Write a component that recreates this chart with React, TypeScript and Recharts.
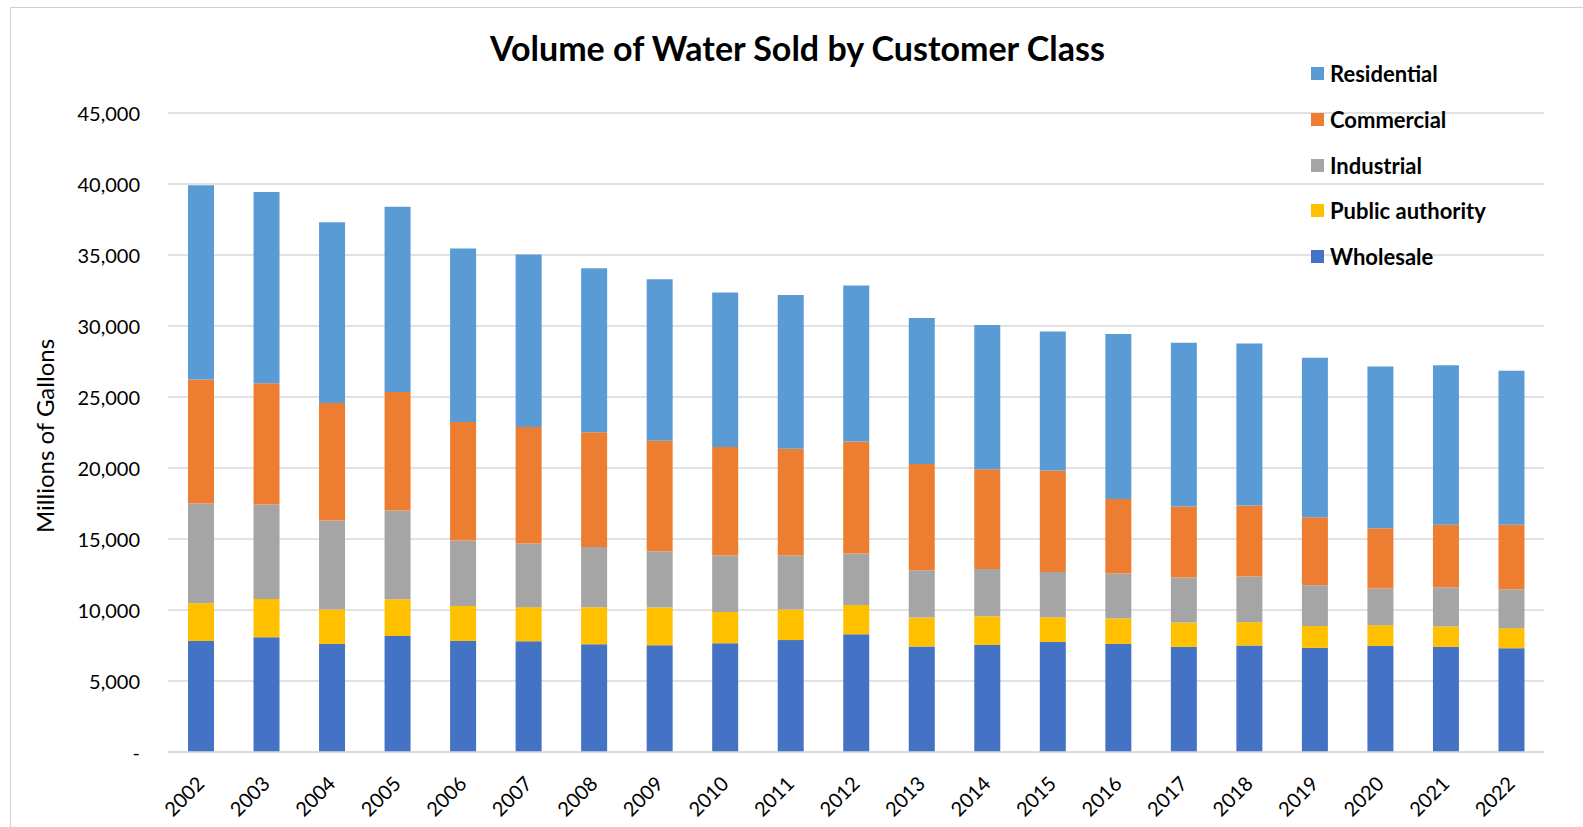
import React from 'react';
import { BarChart, Bar, XAxis, YAxis, CartesianGrid } from 'recharts';

const years = ['2002', '2003', '2004', '2005', '2006', '2007', '2008', '2009', '2010', '2011', '2012', '2013', '2014', '2015', '2016', '2017', '2018', '2019', '2020', '2021', '2022'];
const wholesale = [7820, 8080, 7610, 8170, 7820, 7800, 7590, 7520, 7660, 7880, 8290, 7430, 7540, 7750, 7610, 7400, 7500, 7330, 7470, 7400, 7310];
const publicAuthority = [2660, 2700, 2420, 2590, 2470, 2400, 2610, 2660, 2200, 2150, 2070, 2040, 2020, 1740, 1790, 1720, 1640, 1550, 1460, 1440, 1410];
const industrial = [7020, 6650, 6270, 6250, 4610, 4490, 4230, 3950, 3970, 3810, 3620, 3330, 3330, 3190, 3170, 3170, 3220, 2870, 2590, 2770, 2750];
const commercial = [8740, 8530, 8280, 8340, 8340, 8200, 8080, 7790, 7650, 7510, 7890, 7490, 7030, 7150, 5240, 5000, 5000, 4790, 4230, 4390, 4530];
const residential = [13670, 13480, 12720, 13040, 12210, 12140, 11560, 11370, 10880, 10830, 10990, 10270, 10150, 9790, 11630, 11530, 11410, 11230, 11390, 11230, 10850];
const yTicks = [0, 5000, 10000, 15000, 20000, 25000, 30000, 35000, 40000, 45000];

const series = [
  { key: 'wholesale', name: 'Wholesale', color: '#4472C4' },
  { key: 'publicAuthority', name: 'Public authority', color: '#FFC000' },
  { key: 'industrial', name: 'Industrial', color: '#A5A5A5' },
  { key: 'commercial', name: 'Commercial', color: '#ED7D31' },
  { key: 'residential', name: 'Residential', color: '#5B9BD5' },
];

const data = years.map((year, i) => ({
  year,
  wholesale: wholesale[i],
  publicAuthority: publicAuthority[i],
  industrial: industrial[i],
  commercial: commercial[i],
  residential: residential[i],
}));

const FONT = 'Lato, "Noto Sans", sans-serif';

const YTick = (props: any) => {
  const { x, y, payload } = props;
  const label = payload.value === 0 ? '-' : payload.value.toLocaleString('en-US');
  return (
    <text x={x - 20} y={y} textAnchor="end" dominantBaseline="central" fontFamily={FONT} fontSize={20} fill="#000">
      {label}
    </text>
  );
};

const XTick = (props: any) => {
  const { x, y, payload } = props;
  const ax = x + 5;
  const ay = y + 25;
  return (
    <text x={ax} y={ay} textAnchor="end" fontFamily={FONT} fontSize={20} fill="#000" transform={`rotate(-45 ${ax} ${ay})`}>
      {payload.value}
    </text>
  );
};

// legend drawn as plain html so it does not shrink the plot
const LegendBox = () => (
  <div style={{ position: 'absolute', left: 1311, top: 51, fontFamily: FONT, fontWeight: 700, fontSize: 22, color: '#000' }}>
    {[...series].reverse().map((s) => (
      <div key={s.key} style={{ display: 'flex', alignItems: 'center', height: 45.7, whiteSpace: 'nowrap' }}>
        <span style={{ width: 13, height: 13, background: s.color, marginRight: 6, display: 'inline-block' }} />
        <span>{s.name}</span>
      </div>
    ))}
  </div>
);

export default function App() {
  return (
    <div style={{ position: 'absolute', left: 0, top: 0, width: 1583, height: 827, overflow: 'hidden', background: '#fff' }}>
      <div style={{ position: 'absolute', left: 10, top: 7, width: 1620, height: 900, border: '1.5px solid #d0d0d0' }} />
      <div
        style={{
          position: 'absolute',
          left: 0,
          top: 27,
          width: 1595,
          textAlign: 'center',
          fontFamily: FONT,
          fontWeight: 700,
          fontSize: 34,
          color: '#000',
        }}
      >
        Volume of Water Sold by Customer Class
      </div>
      <div
        style={{
          position: 'absolute',
          left: 44,
          top: 436,
          transform: 'translate(-50%, -50%) rotate(-90deg)',
          whiteSpace: 'nowrap',
          fontFamily: FONT,
          fontSize: 24,
          color: '#000',
        }}
      >
        Millions of Gallons
      </div>
      <div style={{ position: 'absolute', left: 0, top: 0 }}>
        <BarChart width={1583} height={827} data={data} margin={{ top: 113, right: 39, bottom: 15, left: 108 }} barSize={26}>
          <CartesianGrid vertical={false} stroke="#d9d9d9" strokeWidth={1.5} />
          <XAxis
            dataKey="year"
            height={60}
            tickLine={false}
            axisLine={{ stroke: '#d9d9d9', strokeWidth: 1.5 }}
            tick={<XTick />}
            interval={0}
          />
          <YAxis
            width={60}
            domain={[0, 45000]}
            ticks={yTicks}
            tickLine={false}
            axisLine={false}
            tick={<YTick />}
            interval={0}
          />
          {series.map((s) => (
            <Bar key={s.key} dataKey={s.key} name={s.name} stackId="a" fill={s.color} isAnimationActive={false} />
          ))}
        </BarChart>
      </div>
      <LegendBox />
    </div>
  );
}
